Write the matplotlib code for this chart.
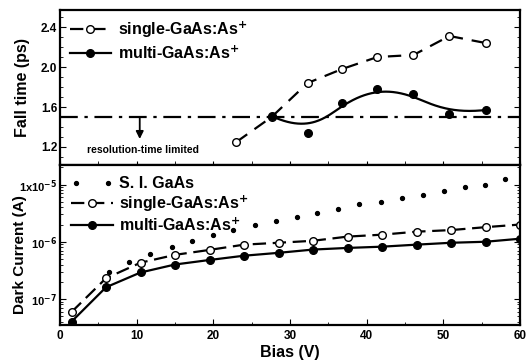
import numpy as np
import matplotlib
matplotlib.use("Agg")
import matplotlib.pyplot as plt
from matplotlib.ticker import FixedLocator, FixedFormatter, MultipleLocator, LogLocator, NullFormatter
from matplotlib.legend_handler import HandlerLine2D

plt.rcParams['font.family'] = ['Liberation Sans', 'DejaVu Sans']
plt.rcParams['font.weight'] = 'bold'
plt.rcParams['mathtext.default'] = 'bf'

# ---- Fall time data (top panel) ----
ft_bias_single = [23.0, 27.6, 32.3, 36.8, 41.4, 46.1, 50.8, 55.5]
ft_single = [1.25, 1.50, 1.84, 1.98, 2.10, 2.12, 2.31, 2.24]
ft_bias_multi = [27.6, 32.3, 36.8, 41.4, 46.1, 50.8, 55.5]
ft_multi = [1.51, 1.34, 1.64, 1.78, 1.73, 1.53, 1.57]
resolution_limit = 1.5

# ---- Dark current data (bottom panel) ----
dc_bias = [1.5, 6.0, 10.5, 15.0, 19.5, 24.0, 28.5, 33.0, 37.5, 42.0, 46.5, 51.0, 55.5, 60.0]
dc_single = [5.9e-8, 2.3e-7, 4.3e-7, 5.9e-7, 7.2e-7, 8.9e-7, 9.6e-7, 1.04e-6, 1.23e-6, 1.33e-6, 1.5e-6, 1.6e-6, 1.8e-6, 2.0e-6]
dc_multi = [4.0e-8, 1.6e-7, 2.9e-7, 4.0e-7, 4.8e-7, 5.7e-7, 6.4e-7, 7.3e-7, 7.8e-7, 8.2e-7, 8.9e-7, 9.6e-7, 1.0e-6, 1.13e-6]
si_bias = [6.4, 9.0, 11.7, 14.6, 17.2, 19.9, 22.6, 25.4, 28.2, 30.9, 33.5, 36.2, 39.0, 41.9, 44.6, 47.3, 50.1, 52.8, 55.4, 58.1]
si_current = [2.9e-7, 4.5e-7, 6.2e-7, 8.2e-7, 1.04e-6, 1.33e-6, 1.62e-6, 2.0e-6, 2.3e-6, 2.7e-6, 3.2e-6, 3.8e-6, 4.5e-6, 5.0e-6, 5.9e-6, 6.7e-6, 7.8e-6, 8.9e-6, 1.0e-5, 1.23e-5]

dc_tick_vals = [1e-7, 1e-6, 1e-5]
dc_tick_labels = ['10$^{-7}$', '10$^{-6}$', '1x10$^{-5}$']


def bspline(px, py, n=200):
    """Clamped cubic B-spline using the data points as control points."""
    P = np.column_stack([px, py])
    k = 3
    m = len(P)
    knots = np.concatenate([np.zeros(k), np.linspace(0, 1, m - k + 1), np.ones(k)])
    t = np.linspace(0, 1, n)
    t[-1] = 1 - 1e-10

    def basis(i, kk, tt):
        if kk == 0:
            return np.where((knots[i] <= tt) & (tt < knots[i + 1]), 1.0, 0.0)
        d1 = knots[i + kk] - knots[i]
        d2 = knots[i + kk + 1] - knots[i + 1]
        a = 0 if d1 == 0 else (tt - knots[i]) / d1 * basis(i, kk - 1, tt)
        b = 0 if d2 == 0 else (knots[i + kk + 1] - tt) / d2 * basis(i + 1, kk - 1, tt)
        return a + b

    C = np.zeros((n, 2))
    for i in range(m):
        C += basis(i, k, t)[:, None] * P[i]
    return C[:, 0], C[:, 1]


fig = plt.figure(figsize=(5.27, 3.64), dpi=100)
left, right = 60 / 527, 520 / 527
y_top, y_mid, y_bot = 1 - 10 / 364, 1 - 165 / 364, 1 - 325 / 364
ax1 = fig.add_axes([left, y_mid, right - left, y_top - y_mid])
ax2 = fig.add_axes([left, y_bot, right - left, y_mid - y_bot], sharex=ax1)

lw = 1.6
ms = 5.5
leg_prop = {'weight': 'bold', 'size': 11.5}

# Top panel
ax1.plot(ft_bias_single, ft_single, color='black', lw=lw, dashes=(6, 4),
         marker='o', mfc='white', mec='black', ms=ms, mew=1.0,
         label='single-GaAs:As$^{+}$')
sx, sy = bspline(ft_bias_multi, ft_multi)
ax1.plot(sx, sy, color='black', lw=lw)
ax1.plot(ft_bias_multi, ft_multi, 'o', color='black', ms=ms)
ax1.plot([], [], color='black', lw=lw, marker='o', ms=ms, label='multi-GaAs:As$^{+}$')
ax1.axhline(resolution_limit, color='black', lw=lw, dashes=(8, 3, 1.5, 3))
ax1.annotate('', xy=(10.4, 1.28), xytext=(10.4, 1.5),
             arrowprops=dict(arrowstyle='-|>', color='black', lw=1.3,
                             mutation_scale=11, shrinkA=0, shrinkB=0))
ax1.text(10.8, 1.17, 'resolution-time limited', fontsize=7.5, fontweight='bold',
         ha='center', va='center')
ax1.set_ylim(1.02, 2.57)
ax1.set_xlim(0, 60)
ax1.yaxis.set_major_locator(FixedLocator([1.2, 1.6, 2.0, 2.4]))
ax1.yaxis.set_minor_locator(MultipleLocator(0.1))
ax1.xaxis.set_major_locator(FixedLocator(ft_bias_single))
ax1.tick_params(axis='x', which='both', labelbottom=False, direction='in', length=3, top=False)
ax1.tick_params(axis='y', which='major', direction='in', length=4, right=True, labelsize=8.5, pad=2)
ax1.tick_params(axis='y', which='minor', direction='in', length=2, right=True)
ax1.set_ylabel('Fall time (ps)', fontsize=11.5, fontweight='bold')
ax1.yaxis.set_label_coords((30 - 60) / 460, 0.5)
ax1.legend(loc='upper left', frameon=False, handlelength=2.6,
           borderaxespad=0.2, labelspacing=0.3, handletextpad=0.4,
           prop=leg_prop)

# Bottom panel
si_line, = ax2.plot(si_bias, si_current, 'o', color='black', ms=2.8, label='S. I. GaAs')
ax2.plot(dc_bias, dc_single, color='black', lw=lw, dashes=(6, 3),
         marker='o', mfc='white', mec='black', ms=ms, mew=1.0,
         label='single-GaAs:As$^{+}$')
ax2.plot(dc_bias, dc_multi, color='black', lw=lw, marker='o', ms=ms,
         label='multi-GaAs:As$^{+}$')
ax2.set_yscale('log')
ax2.set_ylim(3.5e-8, 2.2e-5)
ax2.set_xlim(0, 60)
ax2.yaxis.set_major_locator(FixedLocator(dc_tick_vals))
ax2.yaxis.set_major_formatter(FixedFormatter(dc_tick_labels))
ax2.yaxis.set_minor_locator(LogLocator(base=10, subs=np.arange(2, 10)))
ax2.yaxis.set_minor_formatter(NullFormatter())
ax2.xaxis.set_major_locator(MultipleLocator(10))
ax2.xaxis.set_minor_locator(MultipleLocator(5))
ax2.tick_params(axis='x', which='major', direction='in', length=4, labelsize=8.5)
ax2.tick_params(axis='y', which='major', direction='in', length=4, right=True, labelsize=8, pad=2)
ax2.tick_params(axis='both', which='minor', direction='in', length=2, right=True)
ax2.set_ylabel('Dark Current (A)', fontsize=11, fontweight='bold')
ax2.yaxis.set_label_coords((27 - 60) / 460, 0.44)
ax2.set_xlabel('Bias (V)', fontsize=11.5, fontweight='bold', labelpad=2)
ax2.legend(loc='upper left', frameon=False, handlelength=2.6,
           borderaxespad=0.3, labelspacing=0.15, handletextpad=0.4,
           prop=leg_prop, handler_map={si_line: HandlerLine2D(numpoints=2)})

for ax in (ax1, ax2):
    for s in ax.spines.values():
        s.set_linewidth(1.6)

fig.savefig('out.png', dpi=100)
